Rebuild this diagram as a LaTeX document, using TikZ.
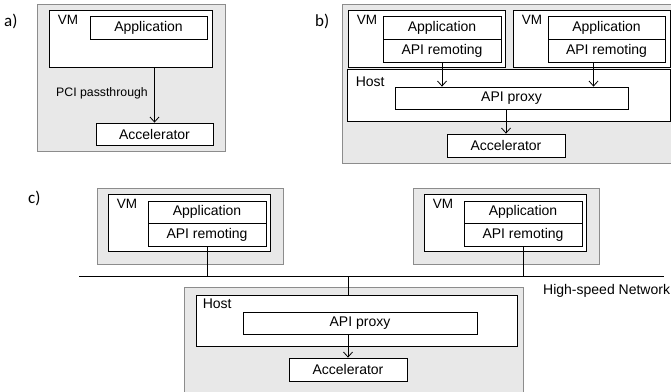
\documentclass[tikz,border=0pt]{standalone}
\usepackage{fontspec}
\setmainfont{Liberation Sans}
\newfontfamily\panelfont{Carlito}
\usetikzlibrary{arrows.meta}
\definecolor{panelfill}{RGB}{232,232,232}
\definecolor{paneledge}{RGB}{140,140,140}
\tikzset{
  panel/.style={draw=paneledge, fill=panelfill, line width=0.8pt, inner sep=0},
  box/.style={draw, fill=white, line width=0.8pt, inner sep=0, font=\fontsize{14}{16}\selectfont},
  tag/.style={inner sep=0, anchor=north west, font=\fontsize{13.5}{16}\selectfont},
  caption/.style={inner sep=0, anchor=base west, font=\panelfont\fontsize{17}{19}\selectfont},
  link/.style={line width=0.8pt},
  flow/.style={line width=0.8pt, -{Straight Barb[length=5pt,width=9pt]}},
}

\begin{document}
\begin{tikzpicture}[x=1pt,y=-1pt]
    \useasboundingbox (0,0) rectangle (671,391);
    \clip (0,0) rectangle (671,391);

    % a) passthrough
    \node[caption] (capA) at (4,26) {a)};
    \node[panel, minimum width=188, minimum height=147] (panelA) at (131,77.5) {};
    \node[box, minimum width=163, minimum height=57] (vmA) at (130.5,38.5) {};
    \node[tag] at ([shift={(9,5)}]vmA.north west) {VM};
    \node[box, minimum width=117, minimum height=23] (appA) at (148.5,27.5) {Application};
    \node[box, minimum width=117, minimum height=22] (accA) at (154.5,134) {Accelerator};
    \draw[flow] (vmA.south -| accA.north) -- (accA.north);
    \node[inner sep=0, anchor=base east, font=\fontsize{12.3}{14}\selectfont] (pci) at (148,96.5) {PCI passthrough};

    % b) API remoting on one host
    \node[caption] (capB) at (315,26) {b)};
    \node[panel, minimum width=338, minimum height=159] (panelB) at (511,83.5) {};
    \node[box, minimum width=157, minimum height=57] (vmB1) at (426.5,38.5) {};
    \node[tag] at ([shift={(9,5)}]vmB1.north west) {VM};
    \node[box, minimum width=118, minimum height=23] (appB1) at (442,27.5) {Application};
    \node[box, minimum width=118, minimum height=23] (apiB1) at (442,50.5) {API remoting};
    \node[box, minimum width=157, minimum height=57] (vmB2) at (591.5,38.5) {};
    \node[tag] at ([shift={(9,5)}]vmB2.north west) {VM};
    \node[box, minimum width=117, minimum height=23] (appB2) at (606.5,27.5) {Application};
    \node[box, minimum width=117, minimum height=23] (apiB2) at (606.5,50.5) {API remoting};
    \node[box, minimum width=323, minimum height=52] (hostB) at (508.5,95) {};
    \node[tag, font=\fontsize{14}{16}\selectfont] at ([shift={(9,8)}]hostB.north west) {Host};
    \node[box, minimum width=233, minimum height=22] (proxyB) at (511.5,98) {API proxy};
    \node[box, minimum width=118, minimum height=23] (accB) at (506,145.5) {Accelerator};
    \draw[flow] (apiB1.south) -- (apiB1.south |- proxyB.north);
    \draw[flow] ([xshift=-13pt]apiB2.south) -- ([xshift=-13pt]apiB2.south |- proxyB.north);
    \draw[flow] (proxyB.south -| accB.north) -- (accB.north);

    % c) API remoting over the network
    \node[caption] (capC) at (28,203) {c)};
    \node[panel, minimum width=186, minimum height=76] (panelL) at (190,226) {};
    \node[box, minimum width=162, minimum height=57] (vmL) at (189,222.5) {};
    \node[tag] at ([shift={(9,5)}]vmL.north west) {VM};
    \node[box, minimum width=118, minimum height=22] (appL) at (207,212) {Application};
    \node[box, minimum width=118, minimum height=23] (apiL) at (207,234.5) {API remoting};
    \node[panel, minimum width=186, minimum height=76] (panelR) at (506,226) {};
    \node[box, minimum width=162, minimum height=57] (vmR) at (505,222.5) {};
    \node[tag] at ([shift={(9,5)}]vmR.north west) {VM};
    \node[box, minimum width=118, minimum height=22] (appR) at (523,212) {Application};
    \node[box, minimum width=118, minimum height=23] (apiR) at (523,234.5) {API remoting};

    \coordinate (netL) at (79,276);
    \coordinate (netR) at (664,276);
    \draw[link] (netL) -- (netR);
    \node[inner sep=0, anchor=base west, font=\fontsize{14}{16}\selectfont] (net) at (543,294) {High-speed Network};

    \node[panel, minimum width=339, minimum height=113] (panelH) at (353.5,343.5) {};
    \node[box, minimum width=321, minimum height=51] (hostC) at (356.5,320.5) {};
    \node[tag, font=\fontsize{14}{16}\selectfont] at ([shift={(7,4)}]hostC.north west) {Host};
    \node[box, minimum width=234, minimum height=22] (proxyC) at (360,323) {API proxy};
    \node[box, minimum width=118, minimum height=23] (accC) at (348,369.5) {Accelerator};

    \draw[link] (apiL.south) -- (apiL.south |- netL);
    \draw[link] (apiR.south) -- (apiR.south |- netL);
    \draw[link] (accC.north |- netL) -- (accC.north |- hostC.north);
    \draw[flow] (accC.north |- proxyC.south) -- (accC.north);
\end{tikzpicture}
\end{document}
